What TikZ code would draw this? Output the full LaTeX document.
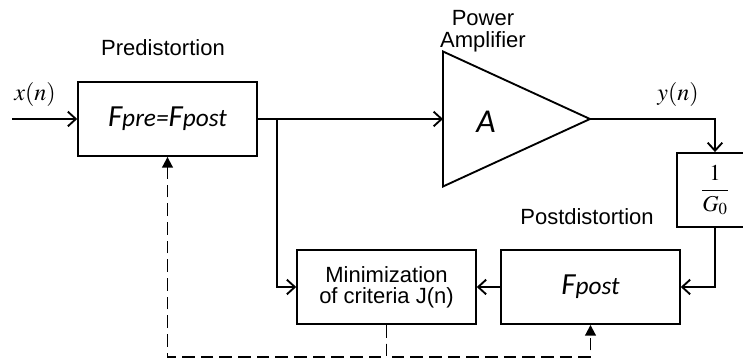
\documentclass[tikz,border=0pt]{standalone}
\usepackage{mathptmx}
\usepackage{fontspec}
\setmainfont{Liberation Sans}
\newfontfamily\calib{Carlito}
\usetikzlibrary{positioning,calc,arrows.meta}
\tikzset{
	blk/.style={
		draw,
		line width=1.4pt,
		minimum width=134pt,
		minimum height=55.5pt,
		inner sep=2pt,
		align=center
	},
	gbox/.style={blk, minimum width=57pt},
	lab/.style={font=\fontsize{16.5}{16.5}\selectfont, align=center},
	sym/.style={font=\calib\itshape},
	sig/.style={line width=1.4pt, -{Straight Barb[length=6pt, width=11pt]}},
	fb/.style={line width=1.4pt, dash pattern=on 9.5pt off 4.5pt, -{Triangle[length=8pt, width=8pt]}},
	amp/.style={draw, line width=1.4pt, line join=miter},
}
\newcommand{\fsym}[1]{{\fontsize{23}{26}\selectfont F}{\fontsize{19}{22}\selectfont #1}}
\newcommand{\mth}[1]{{\fontsize{18}{20}\selectfont $#1$}}

\begin{document}
\begin{tikzpicture}[x=0.75pt, y=0.75pt]
		\useasboundingbox (0,0) rectangle (743,359);
		
		% ------------------- Predistortion block -------------------
		\node[lab] (labPre) at (163,311) {Predistortion};
		\node[blk, sym] (pre) at (167.5,240) {\fsym{pre=}\fsym{post}};
		\coordinate (xin) at (12,240);
		\node (labX) at (35,264) {\mth{x(n)}};
		\draw[sig] (xin) -- (pre);
		
		% ------------------- Power amplifier -------------------
		\coordinate (paT) at (443,307.5);
		\coordinate (paB) at (443,172.5);
		\coordinate (paO) at (590,240);
		\coordinate (paI) at (443,240);
		\draw[amp] (paT) -- (paO) -- (paB) -- cycle;
		\node[sym] (labA) at (486,237) {\fontsize{25}{28}\selectfont A};
		\node[lab] (labPA) at (483,328) {Power\\Amplifier};
		\draw[sig] (pre) -- (paI);
		
		% ------------------- Gain normalisation -------------------
		\node[gbox] (gain) at (715,169) {\fontsize{17}{20}\selectfont $\displaystyle\frac{1}{G_0}$};
		\node (labY) at (678,264) {\mth{y(n)}};
		\draw[sig] (paO) -| (gain);
		
		% ------------------- Postdistortion and criterion -------------------
		\node[lab] (labPost) at (587,142) {Postdistortion};
		\node[blk, sym] (post) at (590.5,72) {\fsym{post}};
		\node[blk, font=\fontsize{16.5}{15.5}\selectfont] (minJ) at (386.5,72) {Minimization\\of criteria J(n)};
		\draw[sig] (gain) |- (post);
		\draw[sig] (post) -- (minJ);
		\coordinate (br) at (277,240);
		\draw[sig] (br) |- (minJ);
		
		% ------------------- Adaptation paths (dashed) -------------------
		\coordinate (fbL) at (167.5,2);
		\coordinate (fbR) at (590.5,2);
		\draw[fb] (minJ.south) |- (fbL) -- (pre.south);
		\draw[fb] (minJ.south) |- (fbR) -- (post.south);
		
	\end{tikzpicture}
\end{document}
